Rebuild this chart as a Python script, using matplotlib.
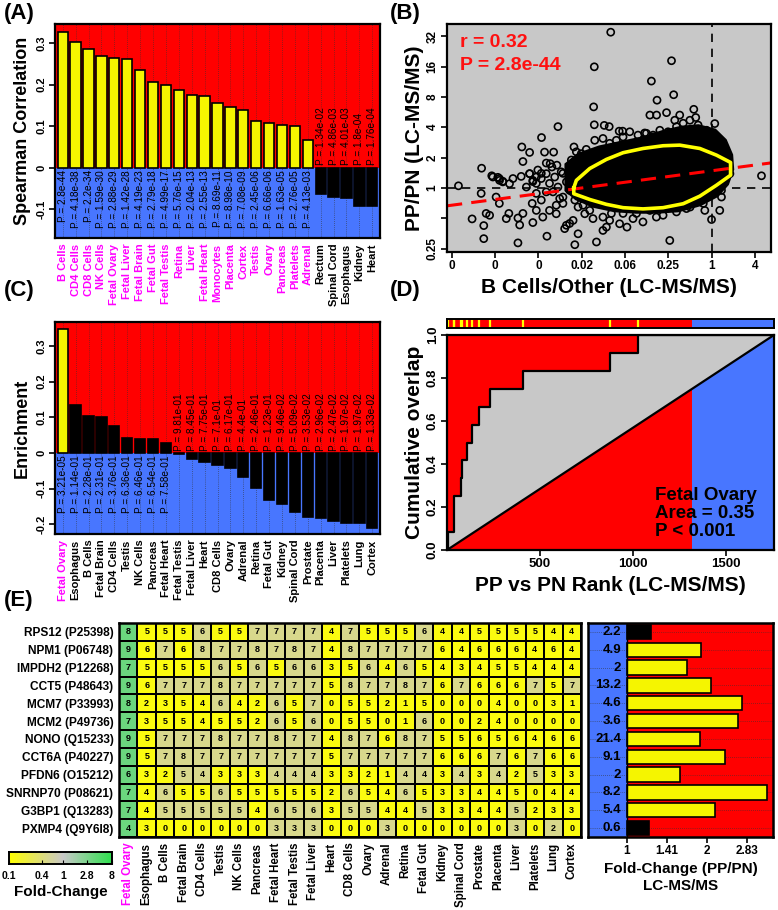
import numpy as np
import matplotlib.pyplot as plt
import matplotlib.colors as mcolors

plt.rcParams['font.family'] = ['Liberation Sans', 'DejaVu Sans']
plt.rcParams['font.weight'] = 'bold'
plt.rcParams['axes.labelweight'] = 'bold'

RED = '#FF0000'
BLUE = '#4876FF'
YEL = '#F5F500'
GRAY = '#C8C8C8'
MAG = '#FF00FF'

# ---------------- panel A data ----------------
tissues_a = ['B Cells', 'CD4 Cells', 'CD8 Cells', 'NK Cells', 'Fetal Ovary', 'Fetal Liver',
             'Fetal Brain', 'Fetal Gut', 'Fetal Testis', 'Retina', 'Liver', 'Fetal Heart',
             'Monocytes', 'Placenta', 'Cortex', 'Testis', 'Ovary', 'Pancreas', 'Platelets',
             'Adrenal', 'Rectum', 'Spinal Cord', 'Esophagus', 'Kidney', 'Heart']
spearman_a = [0.326, 0.302, 0.287, 0.270, 0.263, 0.261, 0.235, 0.207, 0.199, 0.186, 0.174,
              0.173, 0.155, 0.147, 0.138, 0.112, 0.108, 0.104, 0.100, 0.068,
              -0.062, -0.070, -0.072, -0.092, -0.092]
pvals_a = ['2.8e-44', '4.18e-38', '2.2e-34', '1.59e-30', '2.88e-29', '1.42e-28', '4.19e-23',
           '2.79e-18', '4.99e-17', '5.76e-15', '2.04e-13', '2.55e-13', '8.69e-11', '8.98e-10',
           '7.08e-09', '2.45e-06', '6.66e-06', '1.63e-05', '2.76e-05', '4.13e-03',
           '1.34e-02', '4.86e-03', '4.01e-03', '1.8e-04', '1.76e-04']

# ---------------- panel B data (log2 ratios) ----------------
b_log2 = [-4.66, -5.42, -1.85, -2.78, -1.75, -2.52, -5.45, -0.82, -2.85, -2.54, -2.08, -1.70,
          -1.47, -0.73, -5.42, -4.96, -4.73, -4.27, -4.11, -7.10, -7.86, -8.77, -8.41, -7.72,
          -7.30, -8.72, -10.63, -10.16, -9.88, -9.65, -9.18, -11.70, -6.36, -5.79, -6.02,
          -5.63, -5.17, -4.71, -4.25, -3.55, -3.17, -3.01, -2.70, -7.46, -7.38, -7.15, -6.56,
          -8.41, -8.10, 0.15, -0.31, 0.38, 0.46, 0.31, 0.54, 0.85, 2.31,
          -10.65, -11.07, -10.53, -10.53, -10.42, -10.26, -9.81, -9.96, -9.49, -9.37, -10.11,
          -9.81, -9.65, -8.95, -8.87, -8.95, -8.72, -8.29, -8.26, -7.80, -8.10, -7.61, -6.79,
          -6.71, -6.56, -6.40, -6.17, -6.32, -5.32, -5.02, -4.86, -4.63, -4.25, -3.91, -3.17,
          -2.55, -1.93, -1.62, -1.16, 0.00, 0.38, 0.46, 0.46, 0.46, -0.38, -0.31, -7.64, -7.33,
          -8.10, -8.56, -7.18, -6.87, -5.63, -5.94, -5.02, -4.09, -3.47, -2.85,
          -8.41, -8.26, -8.03, -7.87, -7.64, -7.49, -7.25, -7.10, -6.95, -6.87, -6.71, -6.56,
          -6.48, -6.32, -8.10, -7.87, -7.49, -7.18, -7.02, -6.17, -5.86, -5.48, -4.71, -3.63,
          -2.24, -0.99, -0.23, 0.23,
          -9.80, -9.34, -8.80, -8.26, -7.87, -7.64, -6.87, -6.48, -6.25, -5.94, -5.40, -5.02,
          -4.40, -4.09, -3.78, -3.40, -3.09, -2.70, -2.39, -2.01, -1.62, -1.31, -1.00, -0.62,
          -0.23, 0.08, 0.38, 0.61]
pp_log2 = [5.13, 3.99, 4.19, 3.52, 3.07, 2.89, 2.67, 2.59, 2.40, 2.40, 2.48, 2.23,
           2.40, 2.32, 2.08, 2.06, 2.02, 1.87, 1.87, 2.02, 1.66, 1.35, 1.17, 1.18,
           1.18, 0.87, 0.65, 0.40, 0.35, 0.22, 0.31, 0.07, 1.35, 1.27, 1.13,
           1.08, 1.13, 1.47, 1.35, 1.47, 1.57, 1.80, 1.68, 0.80, 0.69, 0.75, 0.69,
           0.47, 0.36, 2.12, 1.80, 1.57, 1.35, 0.91, 0.58, 0.47, 0.40,
           -0.18, -1.02, -1.24, -1.67, -0.84, -0.90, -0.51, -0.30, -1.01, -0.84, 0.36,
           0.31, 0.20, -1.81, -1.22, -0.99, -0.84, -0.51, -1.14, -0.96, -0.74, -1.59, -1.34,
           -1.23, -1.17, -1.07, -1.51, -1.87, -1.78, -1.40, -1.29, -0.84, -1.18, -1.29, -1.12,
           -0.96, -1.73, -0.79, -0.68, -1.04, -0.74, -0.30, -0.08, 0.25, -0.51, -0.74, -0.13, -0.13,
           0.15, 0.03, -0.57, -0.51, -0.74, -0.57, -0.96, -0.84, -0.84, -0.74,
           0.47, 0.25, 0.59, 0.31, 0.47, 0.15, 0.36, 0.03, 0.53, -0.30, 0.20, -0.08,
           0.47, -0.40, -0.18, -0.40, -0.74, -0.85, -0.35, -0.63, -0.85, -1.01, -1.07, -1.01,
           -0.90, -0.63, -0.30, 0.47,
           0.25, 0.14, 0.38, 0.21, 0.48, 0.82, 0.48, 0.92, 1.19, 1.02, 1.57, 1.63,
           1.57, 1.68, 1.85, 1.74, 1.81, 1.74, 1.90, 1.85, 2.02, 2.13, 2.23, 2.07,
           1.90, 1.68, 1.24, 1.02]
# outline of the saturated (solid black) part of the point cloud
core_x = [-6.8, -6.2, -5.2, -4.2, -3.2, -2.3, -1.4, -0.6, 0.2, 0.7, 1.0, 1.05, 0.8, 0.3,
          -0.5, -1.5, -2.5, -3.5, -4.5, -5.5, -6.3, -6.8]
core_y = [0.8, 1.15, 1.4, 1.55, 1.7, 1.9, 2.05, 2.1, 1.95, 1.6, 1.1, 0.6, 0.1, -0.3,
          -0.6, -0.8, -0.85, -0.85, -0.8, -0.65, -0.4, -0.1]
hull_x = [-6.37, -6.25, -5.63, -4.86, -4.09, -3.17, -2.24, -1.47, -0.54, 0.23, 0.88, 0.88,
          0.23, -0.54, -1.31, -2.24, -3.17, -4.09, -4.86, -5.63, -6.37, -6.37]
hull_y = [0.0, 0.25, 0.64, 0.94, 1.16, 1.30, 1.39, 1.41, 1.30, 1.08, 0.84, 0.42,
          0.09, -0.27, -0.52, -0.65, -0.69, -0.65, -0.54, -0.38, -0.19, 0.0]
fit_slope, fit_intercept = 0.0944, 0.565

# ---------------- panel C data ----------------
tissues_c = ['Fetal Ovary', 'Esophagus', 'B Cells', 'Fetal Brain', 'CD4 Cells', 'Testis',
             'NK Cells', 'Pancreas', 'Fetal Heart', 'Fetal Testis', 'Fetal Liver', 'Heart',
             'CD8 Cells', 'Ovary', 'Adrenal', 'Retina', 'Fetal Gut', 'Kidney', 'Spinal Cord',
             'Prostate', 'Placenta', 'Liver', 'Platelets', 'Lung', 'Cortex']
enrich_c = [0.346, 0.135, 0.103, 0.101, 0.077, 0.042, 0.039, 0.039, 0.028, -0.003, -0.017,
            -0.025, -0.033, -0.043, -0.067, -0.099, -0.131, -0.142, -0.165, -0.178, -0.183,
            -0.190, -0.196, -0.196, -0.209]
pvals_c = ['3.21e-05', '1.14e-01', '2.28e-01', '2.31e-01', '3.76e-01', '6.36e-01', '6.46e-01',
           '6.54e-01', '7.58e-01', '9.81e-01', '8.45e-01', '7.75e-01', '7.1e-01', '6.17e-01',
           '4.4e-01', '2.46e-01', '1.23e-01', '9.46e-02', '5.09e-02', '3.53e-02', '2.96e-02',
           '2.47e-02', '1.97e-02', '1.97e-02', '1.33e-02']

# ---------------- panel D data ----------------
overlap_ranks = [3, 36, 40, 76, 82, 107, 137, 170, 229, 409, 875, 1028]
n_total = 1760
n_positive = 1317

# ---------------- panel E data ----------------
proteins = ['RPS12 (P25398)', 'NPM1 (P06748)', 'IMPDH2 (P12268)', 'CCT5 (P48643)',
            'MCM7 (P33993)', 'MCM2 (P49736)', 'NONO (Q15233)', 'CCT6A (P40227)',
            'PFDN6 (O15212)', 'SNRNP70 (P08621)', 'G3BP1 (Q13283)', 'PXMP4 (Q9Y6I8)']
counts = [
    [8, 5, 5, 5, 6, 5, 5, 7, 7, 7, 7, 4, 7, 5, 5, 5, 6, 4, 4, 5, 5, 5, 5, 4, 4],
    [9, 6, 7, 6, 8, 7, 7, 8, 7, 8, 7, 4, 8, 7, 7, 7, 7, 6, 4, 6, 6, 6, 4, 6, 4],
    [7, 5, 5, 5, 5, 6, 5, 6, 5, 6, 6, 3, 5, 6, 4, 6, 5, 4, 3, 4, 5, 5, 4, 4, 4],
    [9, 6, 7, 7, 7, 8, 7, 7, 7, 7, 7, 5, 8, 7, 7, 8, 7, 6, 7, 6, 6, 6, 7, 5, 7],
    [8, 2, 3, 5, 4, 6, 4, 2, 6, 5, 7, 0, 5, 5, 2, 1, 5, 0, 0, 0, 4, 0, 0, 3, 1],
    [7, 3, 5, 5, 4, 5, 5, 2, 6, 5, 6, 0, 5, 5, 0, 1, 6, 0, 0, 2, 4, 0, 0, 0, 0],
    [9, 5, 7, 7, 7, 8, 7, 7, 8, 7, 7, 4, 8, 7, 6, 8, 7, 5, 5, 6, 5, 6, 4, 6, 6],
    [9, 5, 7, 8, 7, 7, 7, 7, 7, 7, 7, 5, 7, 7, 7, 7, 7, 6, 6, 6, 7, 6, 7, 6, 6],
    [6, 3, 2, 5, 4, 3, 3, 3, 4, 4, 4, 3, 3, 2, 1, 4, 4, 3, 4, 3, 4, 2, 5, 3, 3],
    [7, 4, 6, 5, 5, 6, 5, 5, 5, 5, 5, 2, 6, 5, 4, 6, 5, 3, 3, 4, 4, 5, 0, 4, 4],
    [7, 4, 5, 5, 5, 5, 5, 4, 6, 5, 6, 3, 5, 5, 4, 4, 5, 3, 3, 4, 4, 5, 2, 3, 3],
    [4, 3, 0, 0, 0, 0, 0, 0, 3, 3, 3, 0, 0, 0, 3, 0, 0, 0, 0, 0, 0, 3, 0, 2, 0],
]
# cell colour level: G = green, k = grey-yellow, y = yellow
shade = ['Gyyykyykkkkykyyykyyyyyyyy',
         'Gykykkkkkkkykkkkkyyyyyyyy',
         'Gyyyykykykkyykykyyyyyyyyy',
         'Gykkkkkkkkkykkkkkykyyykyk',
         'Gyyyykyykykyyyyyyyyyyyyyy',
         'Gyyyyyyykykyyyyykyyyyyyyy',
         'Gykkkkkkkkkykkykkyyyyyyyy',
         'Gykkkkkkkkkykkkkkyyykykyy',
         'Gyykkyyykkkyyyykkykykykyy',
         'Gykyykyyyyyykyykyyyyyyyyy',
         'Gykkkkkykkkykkyykyyyykyyy',
         'Gyyyyyyykkkyyykyyyyyykyky']
shade_fc = {'G': 3.5, 'k': 0.5, 'y': 0.12}
fc_ms = [1.23, 1.90, 1.69, 2.07, 2.71, 2.62, 1.88, 2.34, 1.58, 3.34, 2.14, 1.21]
fc_labels = ['2.2', '4.9', '2', '13.2', '4.6', '3.6', '21.4', '9.1', '2', '8.2', '5.4', '0.6']
fc_black = [True] + [False] * 10 + [True]

W, H = 778, 910
fig = plt.figure(figsize=(W / 100, H / 100), dpi=100)


def box(l, t, r, b):
    return [l / W, 1 - b / H, (r - l) / W, (b - t) / H]


def frame(ax, lw=1.6):
    for s in ax.spines.values():
        s.set_linewidth(lw)
        s.set_zorder(10)


def bar_panel(ax, names, vals, pvals, ylim, yticks, ylabel, bar_cols, lab_cols):
    x = np.arange(len(vals))
    ax.axhspan(0, ylim[1], color=RED, zorder=0, lw=0)
    ax.axhspan(ylim[0], 0, color=BLUE, zorder=0, lw=0)
    for xi in x:
        ax.axvline(xi, color='#333333', lw=0.5, ls=(0, (1, 2)), zorder=1)
    ax.bar(x, vals, width=0.8, color=bar_cols, edgecolor='black', lw=1.2, zorder=2)
    for xi, v, p in zip(x, vals, pvals):
        if v >= 0:
            ax.text(xi, -0.006, 'P = ' + p, rotation=90, ha='center', va='top',
                    fontsize=7.2, fontweight='normal', zorder=3)
        else:
            ax.text(xi, 0.006, 'P = ' + p, rotation=90, ha='center', va='bottom',
                    fontsize=7.2, fontweight='normal', zorder=3)
    ax.set_xlim(-0.6, len(vals) - 0.4)
    ax.set_ylim(ylim)
    ax.set_yticks(yticks)
    ax.set_yticklabels([f'{t:g}' for t in yticks], rotation=90, va='center', fontsize=8)
    ax.set_xticks(x)
    ax.set_xticklabels(names, rotation=90, fontsize=8)
    for lab, c in zip(ax.get_xticklabels(), lab_cols):
        lab.set_color(c)
    ax.tick_params(axis='x', length=0, pad=4)
    ax.tick_params(axis='y', length=4, width=1.2, pad=2)
    ax.set_ylabel(ylabel, fontsize=13, labelpad=4)
    frame(ax)


# ---- A ----
axA = fig.add_axes(box(55, 24, 380, 238))
bar_panel(axA, tissues_a, spearman_a, pvals_a, (-0.169, 0.346), [-0.1, 0, 0.1, 0.2, 0.3],
          'Spearman Correlation',
          [YEL if v > 0 else 'black' for v in spearman_a],
          [MAG if v > 0 else 'black' for v in spearman_a])

# ---- C ----
axC = fig.add_axes(box(55, 322, 380, 534))
bar_panel(axC, tissues_c, enrich_c, pvals_c, (-0.227, 0.367), [-0.2, -0.1, 0, 0.1, 0.2, 0.3],
          'Enrichment',
          [YEL] + ['black'] * (len(enrich_c) - 1),
          [MAG] + ['black'] * (len(enrich_c) - 1))

# ---- B ----
axB = fig.add_axes(box(447, 24, 771, 252))
axB.set_facecolor(GRAY)
axB.fill(core_x, core_y, color='black', zorder=2, lw=0)
axB.scatter(b_log2, pp_log2, s=26, facecolors='none', edgecolors='black', lw=1.2, zorder=3)
axB.axhline(0, color='black', ls=(0, (5, 4)), lw=1.2, zorder=4)
axB.axvline(0, color='black', ls=(0, (5, 4)), lw=1.2, zorder=4)
xl = np.array([-12.23, 2.75])
axB.plot(xl, fit_intercept + fit_slope * xl, color=RED, ls=(0, (5, 3)), lw=2.2, zorder=4)
axB.plot(hull_x, hull_y, color='#FFFF00', lw=2.6, zorder=5)
axB.set_xlim(-12.23, 2.75)
axB.set_ylim(-2.11, 5.40)
bx = np.arange(-12, 3, 2)
axB.set_xticks(bx)
axB.set_xticklabels([f'{round(2.0 ** t, 2):g}' for t in bx], fontsize=8.5)
by = np.arange(-2, 6)
axB.set_yticks(by)
axB.set_yticklabels(['' if t == -1 else f'{2.0 ** t:g}' for t in by], rotation=90,
                    va='center', fontsize=8.5)
axB.tick_params(length=4, width=1.2, pad=2)
axB.set_xlabel('B Cells/Other (LC-MS/MS)', fontsize=15, labelpad=4)
axB.set_ylabel('PP/PN (LC-MS/MS)', fontsize=15, labelpad=2)
axB.text(0.04, 0.92, 'r = 0.32', transform=axB.transAxes, color='#FF1010', fontsize=14,
         va='center', zorder=6)
axB.text(0.04, 0.82, 'P = 2.8e-44', transform=axB.transAxes, color='#FF1010', fontsize=14,
         va='center', zorder=6)
frame(axB)

# ---- D ----
axD = fig.add_axes(box(447, 335, 774, 550))
axD.axvspan(0, n_positive, color=RED, lw=0, zorder=0)
axD.axvspan(n_positive, n_total, color=BLUE, lw=0, zorder=0)
frac = np.arange(1, len(overlap_ranks) + 1) / len(overlap_ranks)
sx = [0]
sy = [0]
prev = 0
for r, f in zip(overlap_ranks, frac):
    sx += [r, r]
    sy += [prev, f]
    prev = f
sx.append(n_total)
sy.append(prev)
axD.fill(sx + [0], sy + [0], color=GRAY, lw=0, zorder=1)
axD.plot(sx, sy, color='black', lw=1.6, zorder=3)
axD.plot([0, n_total], [0, 1], color='black', lw=1.6, zorder=3)
axD.set_xlim(0, n_total)
axD.set_ylim(0, 1)
axD.set_xticks([500, 1000, 1500])
axD.set_yticks(np.arange(0, 1.01, 0.2))
axD.set_yticklabels([f'{t:.1f}' for t in np.arange(0, 1.01, 0.2)], rotation=90,
                    va='center', fontsize=9.5)
axD.tick_params(axis='x', labelsize=9.5)
axD.tick_params(length=4, width=1.2, pad=2)
axD.set_xlabel('PP vs PN Rank (LC-MS/MS)', fontsize=15, labelpad=4)
axD.set_ylabel('Cumulative overlap', fontsize=15, labelpad=2)
axD.text(1120, 0.17, 'Fetal Ovary\nArea = 0.35\nP < 0.001', fontsize=13.5, va='center',
         ha='left', linespacing=1.1, zorder=6)
frame(axD)

axS = fig.add_axes(box(447, 319, 774, 328))
axS.axvspan(0, n_positive, color=RED, lw=0)
axS.axvspan(n_positive, n_total, color=BLUE, lw=0)
for r in overlap_ranks:
    axS.axvline(r, color='#FFFF00', lw=1.6)
axS.set_xlim(0, n_total)
axS.set_ylim(0, 1)
axS.set_xticks([])
axS.set_yticks([])
frame(axS, 1.4)

# ---- E heatmap ----
cmap = mcolors.LinearSegmentedColormap.from_list(
    'fc', [(0, '#FFFF00'), (0.526, '#C8C8C8'), (1, '#2EE04E')])
norm = mcolors.LogNorm(0.1, 8)
fc_grid = np.array([[shade_fc[c] for c in row] for row in shade])
cnt = np.array(counts)
axE = fig.add_axes(box(119, 623, 581, 837))
axE.pcolormesh(np.arange(26), np.arange(13), fc_grid, cmap=cmap, norm=norm,
               edgecolors='black', lw=1.3)
for i in range(cnt.shape[0]):
    for j in range(cnt.shape[1]):
        axE.text(j + 0.5, i + 0.5, str(cnt[i, j]), ha='center', va='center', fontsize=6.5)
axE.set_xlim(0, 25)
axE.set_ylim(12, 0)
axE.set_xticks(np.arange(25) + 0.5)
axE.set_xticklabels(tissues_c, rotation=90, fontsize=8.3)
axE.get_xticklabels()[0].set_color(MAG)
axE.set_yticks(np.arange(12) + 0.5)
axE.set_yticklabels(proteins, fontsize=8.6)
axE.tick_params(length=0, pad=4)
frame(axE, 1.8)

# ---- E fold-change bars ----
axF = fig.add_axes(box(588, 623, 773, 837))
axF.set_xscale('log', base=2)
lo, hi = 2 ** -0.48, 2 ** 1.82
axF.axvspan(lo, 1, color=BLUE, lw=0, zorder=0)
axF.axvspan(1, hi, color=RED, lw=0, zorder=0)
yy = np.arange(12) + 0.5
for y in yy:
    axF.axhline(y, color='#333333', lw=0.5, ls=(0, (1, 2)), zorder=1)
axF.barh(yy, np.array(fc_ms) - 1, left=1, height=0.8,
         color=['black' if b else YEL for b in fc_black], edgecolor='black', lw=1.2, zorder=2)
for y, t in zip(yy, fc_labels):
    axF.text(0.955, y, t, ha='right', va='center', fontsize=9.5, zorder=3)
axF.axvline(1, color='black', lw=1.0, zorder=3)
axF.set_xlim(lo, hi)
axF.set_ylim(12, 0)
axF.set_yticks([])
axF.set_xticks([1, 2 ** 0.5, 2, 2 ** 1.5])
axF.set_xticklabels(['1', '1.41', '2', '2.83'], fontsize=8.5)
axF.xaxis.set_minor_locator(plt.NullLocator())
axF.tick_params(length=4, width=1.2, pad=2)
axF.set_xlabel('Fold-Change (PP/PN)\nLC-MS/MS', fontsize=11, labelpad=3, linespacing=1.3)
frame(axF, 1.8)

# ---- colour key ----
axK = fig.add_axes(box(9, 852, 112, 864))
axK.set_xscale('log')
edges = np.logspace(-1, np.log10(8), 200)
axK.pcolormesh(edges, [0, 1], np.sqrt(edges[:-1] * edges[1:])[None, :], cmap=cmap, norm=norm)
axK.set_xlim(0.1, 8)
axK.set_yticks([])
axK.set_xticks([0.1, 0.4, 1, 2.8, 8])
axK.set_xticklabels(['0.1', '0.4', '1', '2.8', '8'], fontsize=7.5)
axK.xaxis.set_minor_locator(plt.NullLocator())
axK.tick_params(axis='x', direction='in', length=3, pad=5)
axK.set_xlabel('Fold-Change', fontsize=11, labelpad=3)
frame(axK, 1.4)

# ---- panel letters ----
for lab, x, y in [('(A)', 4, 3), ('(B)', 390, 3), ('(C)', 4, 280), ('(D)', 390, 280),
                  ('(E)', 4, 590)]:
    fig.text(x / W, 1 - y / H, lab, fontsize=16, va='top', ha='left')

fig.savefig('out.png', dpi=100)
